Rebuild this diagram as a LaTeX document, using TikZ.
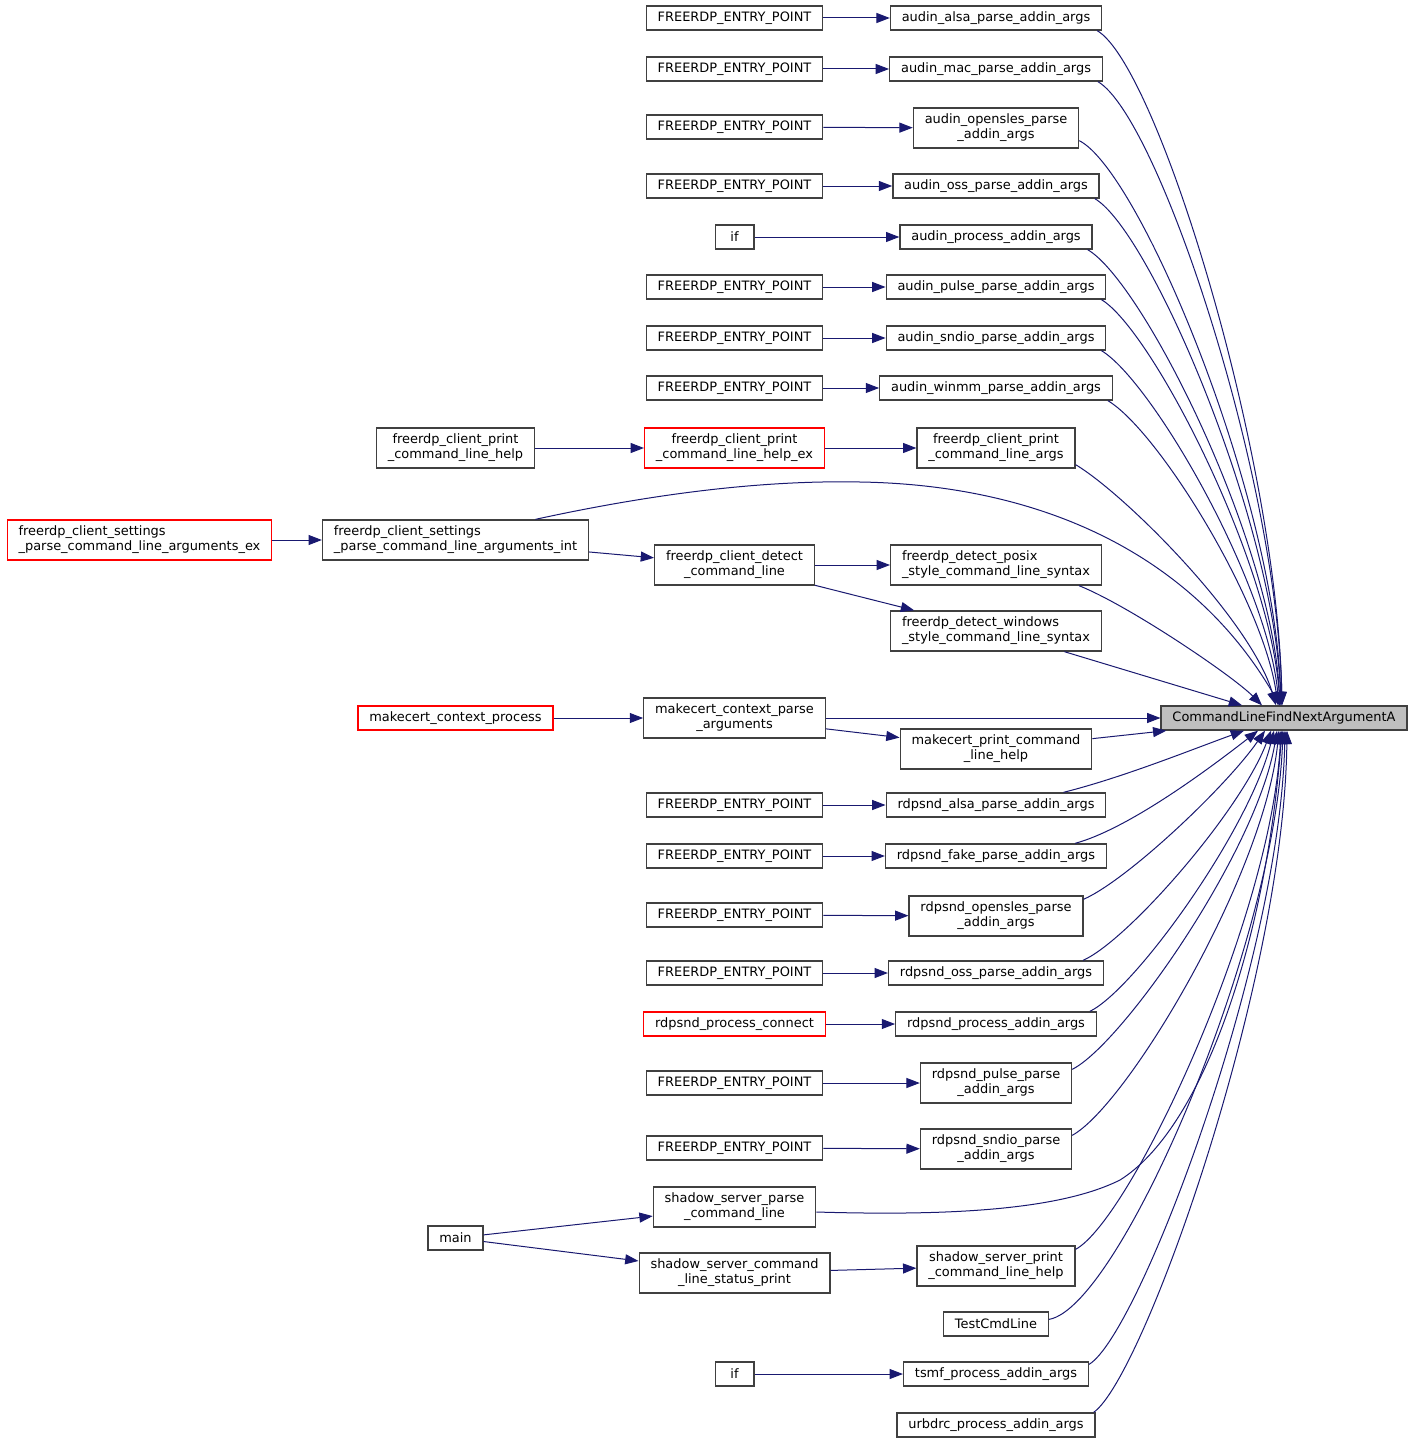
\documentclass[tikz,border=0pt]{standalone}
\usepackage{fontspec}
\setmainfont{DejaVu Sans}
\usepackage{tikz}
\usetikzlibrary{arrows.meta,positioning,calc}
\definecolor{edgeblue}{HTML}{191970}
\definecolor{boxline}{HTML}{404040}

\begin{document}
\begin{tikzpicture}[x=0.75pt, y=-0.75pt]
          \tikzstyle{arrow} = [draw, edgeblue, line width=0.75pt, -{Triangle[length=10pt,width=7.5pt]}]
          \tikzstyle{fn} = [rectangle, draw=boxline, line width=1pt, text centered,
            font=\fontsize{9.7}{11.25}\selectfont, inner xsep=8.5pt, inner ysep=2pt, minimum height=18pt]
          \tikzstyle{fntwo} = [fn, minimum height=30pt, align=center]
          \tikzstyle{fnleft} = [fn, minimum height=30pt, align=left]
          \tikzstyle{undoc} = [draw=red]

          \useasboundingbox (0,0) rectangle (1413,1445);

          % the function everything leads to
          \node[fn, fill=black!25] (cmd) at (1284,718) {CommandLineFindNextArgumentA};

          % direct callers
          \node[fn] (alsa) at (996,18) {audin\_alsa\_parse\_addin\_args};
          \node[fn] (mac) at (996,69) {audin\_mac\_parse\_addin\_args};
          \node[fntwo] (audinOpensles) at (996,128) {audin\_opensles\_parse\\\_addin\_args};
          \node[fn] (oss) at (996,186) {audin\_oss\_parse\_addin\_args};
          \node[fn] (audinProcess) at (996,237) {audin\_process\_addin\_args};
          \node[fn] (audinPulse) at (996,287) {audin\_pulse\_parse\_addin\_args};
          \node[fn] (audinSndio) at (996,338) {audin\_sndio\_parse\_addin\_args};
          \node[fn] (winmm) at (996,388) {audin\_winmm\_parse\_addin\_args};
          \node[fntwo] (printArgs) at (996,448) {freerdp\_client\_print\\\_command\_line\_args};
          \node[fnleft] (posix) at (996,565) {freerdp\_detect\_posix\\\_style\_command\_line\_syntax};
          \node[fnleft] (windows) at (996,631) {freerdp\_detect\_windows\\\_style\_command\_line\_syntax};
          \node[fntwo] (mprint) at (996,749) {makecert\_print\_command\\\_line\_help};
          \node[fn] (rAlsa) at (996,805) {rdpsnd\_alsa\_parse\_addin\_args};
          \node[fn] (rFake) at (996,856) {rdpsnd\_fake\_parse\_addin\_args};
          \node[fntwo] (rOpensles) at (996,916) {rdpsnd\_opensles\_parse\\\_addin\_args};
          \node[fn] (rOss) at (996,973) {rdpsnd\_oss\_parse\_addin\_args};
          \node[fn] (rProcess) at (996,1024) {rdpsnd\_process\_addin\_args};
          \node[fntwo] (rPulse) at (996,1083) {rdpsnd\_pulse\_parse\\\_addin\_args};
          \node[fntwo] (rSndio) at (996,1149) {rdpsnd\_sndio\_parse\\\_addin\_args};
          \node[fntwo] (shadowPrint) at (996,1266) {shadow\_server\_print\\\_command\_line\_help};
          \node[fn] (testCmd) at (996,1324) {TestCmdLine};
          \node[fn] (tsmf) at (996,1374) {tsmf\_process\_addin\_args};
          \node[fn] (urbdrc) at (996,1425) {urbdrc\_process\_addin\_args};

          % second column
          \node[fn] (epAlsa) at (734.5,18) {FREERDP\_ENTRY\_POINT};
          \node[fn] (epMac) at (734.5,69) {FREERDP\_ENTRY\_POINT};
          \node[fn] (epOpensles) at (734.5,127) {FREERDP\_ENTRY\_POINT};
          \node[fn] (epOss) at (734.5,186) {FREERDP\_ENTRY\_POINT};
          \node[fn, minimum width=29pt] (ifAudin) at (734.5,237) {if};
          \node[fn] (epPulse) at (734.5,287) {FREERDP\_ENTRY\_POINT};
          \node[fn] (epSndio) at (734.5,338) {FREERDP\_ENTRY\_POINT};
          \node[fn] (epWinmm) at (734.5,388) {FREERDP\_ENTRY\_POINT};
          \node[fntwo, undoc] (helpEx) at (734.5,448) {freerdp\_client\_print\\\_command\_line\_help\_ex};
          \node[fntwo] (detect) at (734.5,565) {freerdp\_client\_detect\\\_command\_line};
          \node[fntwo] (mparse) at (734.5,718) {makecert\_context\_parse\\\_arguments};
          \node[fn] (epRAlsa) at (734.5,805) {FREERDP\_ENTRY\_POINT};
          \node[fn] (epRFake) at (734.5,856) {FREERDP\_ENTRY\_POINT};
          \node[fn] (epROpensles) at (734.5,915) {FREERDP\_ENTRY\_POINT};
          \node[fn] (epROss) at (734.5,973) {FREERDP\_ENTRY\_POINT};
          \node[fn, undoc] (rConnect) at (734.5,1024) {rdpsnd\_process\_connect};
          \node[fn] (epRPulse) at (734.5,1083) {FREERDP\_ENTRY\_POINT};
          \node[fn] (epRSndio) at (734.5,1148) {FREERDP\_ENTRY\_POINT};
          \node[fntwo] (shadowParse) at (734.5,1207) {shadow\_server\_parse\\\_command\_line};
          \node[fntwo] (shadowStatus) at (734.5,1273) {shadow\_server\_command\\\_line\_status\_print};
          \node[fn, minimum width=29pt] (ifTsmf) at (734.5,1374) {if};

          % third and fourth column
          \node[fntwo] (printHelp) at (455.5,448) {freerdp\_client\_print\\\_command\_line\_help};
          \node[fnleft] (settingsInt) at (455.5,540) {freerdp\_client\_settings\\\_parse\_command\_line\_arguments\_int};
          \node[fn, undoc] (mprocess) at (455.5,718) {makecert\_context\_process};
          \node[fn] (main) at (455.5,1238) {main};
          \node[fnleft, undoc] (settingsEx) at (139.5,540) {freerdp\_client\_settings\\\_parse\_command\_line\_arguments\_ex};

          % straight calls
          \path[arrow] (epAlsa) -- (alsa);
          \path[arrow] (epMac) -- (mac);
          \path[arrow] (epOpensles) -- (audinOpensles);
          \path[arrow] (epOss) -- (oss);
          \path[arrow] (ifAudin) -- (audinProcess);
          \path[arrow] (epPulse) -- (audinPulse);
          \path[arrow] (epSndio) -- (audinSndio);
          \path[arrow] (epWinmm) -- (winmm);
          \path[arrow] (printHelp) -- (helpEx);
          \path[arrow] (helpEx) -- (printArgs);
          \path[arrow] (settingsEx) -- (settingsInt);
          \path[arrow] (settingsInt) -- (detect);
          \path[arrow] (detect) -- (posix);
          \path[arrow] (detect) -- (windows);
          \path[arrow] (windows) -- (cmd);
          \path[arrow] (mprocess) -- (mparse);
          \path[arrow] (mparse) -- (cmd);
          \path[arrow] (mparse) -- (mprint);
          \path[arrow] (mprint) -- (cmd);
          \path[arrow] (epRAlsa) -- (rAlsa);
          \path[arrow] (epRFake) -- (rFake);
          \path[arrow] (epROpensles) -- (rOpensles);
          \path[arrow] (epROss) -- (rOss);
          \path[arrow] (rConnect) -- (rProcess);
          \path[arrow] (epRPulse) -- (rPulse);
          \path[arrow] (epRSndio) -- (rSndio);
          \path[arrow] (main) -- (shadowParse);
          \path[arrow] (main) -- (shadowStatus);
          \path[arrow] (shadowStatus) -- (shadowPrint);
          \path[arrow] (ifTsmf) -- (tsmf);

          % long curves into the top of the target
          \coordinate (arcTop) at (860,482);
          \path[arrow] ($(settingsInt.north)+(80,0)$) .. controls +(115,-25) and +(-100,-2) .. (arcTop)
            .. controls +(190,3) and +(-84,-145) .. ($(cmd.north)+(-4,0)$);
          \path[arrow] ($(alsa.south east)+(-5,0)$) .. controls +(60,35) and +(-5,-250) .. ($(cmd.north)+(-2,0)$);
          \path[arrow] ($(mac.south east)+(-5,0)$) .. controls +(60,35) and +(-5,-230) .. ($(cmd.north)+(-2,0)$);
          \path[arrow] ($(audinOpensles.south east)+(0,-8)$) .. controls +(60,30) and +(-6,-210) .. ($(cmd.north)+(-3,0)$);
          \path[arrow] ($(oss.south east)+(-5,0)$) .. controls +(55,32) and +(-7,-185) .. ($(cmd.north)+(-3,0)$);
          \path[arrow] ($(audinProcess.south east)+(-5,0)$) .. controls +(55,32) and +(-8,-165) .. ($(cmd.north)+(-4,0)$);
          \path[arrow] ($(audinPulse.south east)+(-5,0)$) .. controls +(50,30) and +(-10,-145) .. ($(cmd.north)+(-4,0)$);
          \path[arrow] ($(audinSndio.south east)+(-5,0)$) .. controls +(50,30) and +(-12,-125) .. ($(cmd.north)+(-5,0)$);
          \path[arrow] ($(winmm.south east)+(-5,0)$) .. controls +(50,30) and +(-15,-105) .. ($(cmd.north)+(-6,0)$);
          \path[arrow] ($(printArgs.south east)+(0,-4)$) .. controls +(50,30) and +(-25,-85) .. ($(cmd.north)+(-8,0)$);
          \path[arrow] ($(posix.south east)+(-23,0)$) .. controls +(50,20) and +(-30,-30) .. ($(cmd.north)+(-22,0)$);

          % long curves into the bottom of the target
          \path[arrow] ($(rAlsa.north east)+(-43,0)$) .. controls +(60,-15) and +(-50,18) .. ($(cmd.south)+(-40,0)$);
          \path[arrow] ($(rFake.north east)+(-32,0)$) .. controls +(55,-15) and +(-45,35) .. ($(cmd.south)+(-26,0)$);
          \path[arrow] ($(rOpensles.north east)+(0,4)$) .. controls +(45,-20) and +(-38,55) .. ($(cmd.south)+(-19,0)$);
          \path[arrow] ($(rOss.north east)+(-21,0)$) .. controls +(45,-20) and +(-30,80) .. ($(cmd.south)+(-13,0)$);
          \path[arrow] ($(rProcess.north east)+(-7,0)$) .. controls +(45,-22) and +(-25,100) .. ($(cmd.south)+(-10,0)$);
          \path[arrow] ($(rPulse.north east)+(0,7)$) .. controls +(50,-25) and +(-20,120) .. ($(cmd.south)+(-7,0)$);
          \path[arrow] ($(rSndio.north east)+(0,7)$) .. controls +(55,-30) and +(-15,145) .. ($(cmd.south)+(-5,0)$);
          \coordinate (parseBend) at (1120,1180);
          \path[arrow] ($(shadowParse.east)+(0,5)$) .. controls +(134,4) and +(-60,30) .. (parseBend)
            .. controls +(80,-50) and +(-17,219) .. ($(cmd.south)+(-2,0)$);
          \path[arrow] ($(shadowPrint.north east)+(0,4)$) .. controls +(55,-30) and +(-10,190) .. ($(cmd.south)+(-3,0)$);
          \path[arrow] ($(testCmd.north east)+(0,8)$) .. controls +(70,-12) and +(-8,215) .. ($(cmd.south)+(-1,0)$);
          \path[arrow] ($(tsmf.north east)+(0,3)$) .. controls +(50,-30) and +(-5,230) .. ($(cmd.south)+(1,0)$);
          \path[arrow] ($(urbdrc.north east)+(-2,0)$) .. controls +(50,-35) and +(-3,250) .. ($(cmd.south)+(3,0)$);
        \end{tikzpicture}
\end{document}
